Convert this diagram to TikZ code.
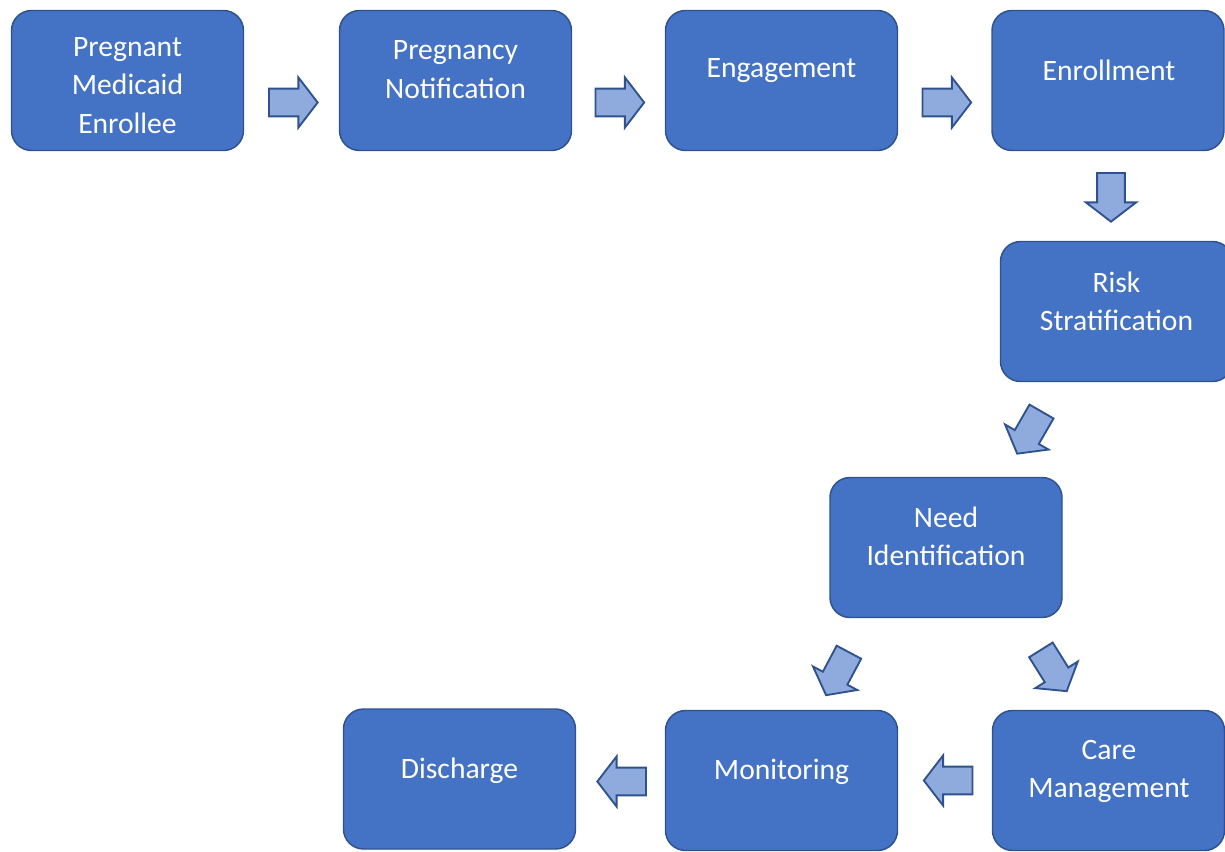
\documentclass[tikz,border=0pt]{standalone}
\usepackage{fontspec}
\setmainfont{Carlito}
\usetikzlibrary{shapes.arrows}
\definecolor{boxblue}{HTML}{4472C4}
\definecolor{edgeblue}{HTML}{2F528F}
\definecolor{arrblue}{HTML}{8FAADC}
\begin{document}
\begin{tikzpicture}[x=0.75pt,y=-0.75pt,
						box/.style={draw=edgeblue, fill=boxblue, line width=1.1pt, rounded corners=15pt,
							minimum width=174pt, minimum height=105pt, inner sep=0pt},
						txt/.style={text=white, align=center, font=\fontsize{22.2}{28.9}\selectfont, inner sep=0pt},
						arr/.style={single arrow, draw=edgeblue, fill=arrblue, line width=1.4pt,
							minimum height=36.5pt, inner sep=9.7pt, single arrow head extend=8.4pt,
							single arrow tip angle=105},
					]
					\useasboundingbox (0,0) rectangle (1225,851);

					% process boxes
					\node[box] (B1) at (127.5,80.5) {}; \node[txt] (T1) at (127.5,85.5) {Pregnant\\Medicaid\\Enrollee};
					\node[box] (B2) at (455.5,80.5) {}; \node[txt] (T2) at (455.5,69.5) {Pregnancy\\Notification};
					\node[box] (B3) at (781.5,80.5) {}; \node[txt] (T3) at (781.5,71) {Engagement};
					\node[box] (B4) at (1108,80.5) {}; \node[txt] (T4) at (1109,70) {Enrollment};
					\node[box] (B5) at (1116.5,311.5) {}; \node[txt] (T5) at (1116.5,301.5) {Risk\\Stratification};
					\node[box] (B6) at (946,547.5) {}; \node[txt] (T6) at (946,536.5) {Need\\Identification};
					\node[box] (B7) at (1108.5,780.5) {}; \node[txt] (T7) at (1109,771.5) {Care\\Management};
					\node[box] (B8) at (781.5,780.5) {}; \node[txt] (T8) at (781.5,771.5) {Monitoring};
					\node[box] (B9) at (459.5,779) {}; \node[txt] (T9) at (459.5,770.5) {Discharge};

					% block arrows
					\node[arr] (A1) at (288,102.5) {};
					\node[arr] (A2) at (614.5,102.5) {};
					\node[arr] (A3) at (941.5,102.5) {};
					\node[arr, rotate=-90] (A4) at (1111,192) {};
					\node[arr, rotate=-120] (A5) at (1032,428) {};
					\node[arr, rotate=-118] (A6) at (840,669) {};
					\node[arr, rotate=-58] (A7) at (1051,666) {};
					\node[arr, rotate=180] (A8) at (953.5,780.5) {};
					\node[arr, rotate=180] (A9) at (627,781.5) {};
				\end{tikzpicture}
\end{document}
